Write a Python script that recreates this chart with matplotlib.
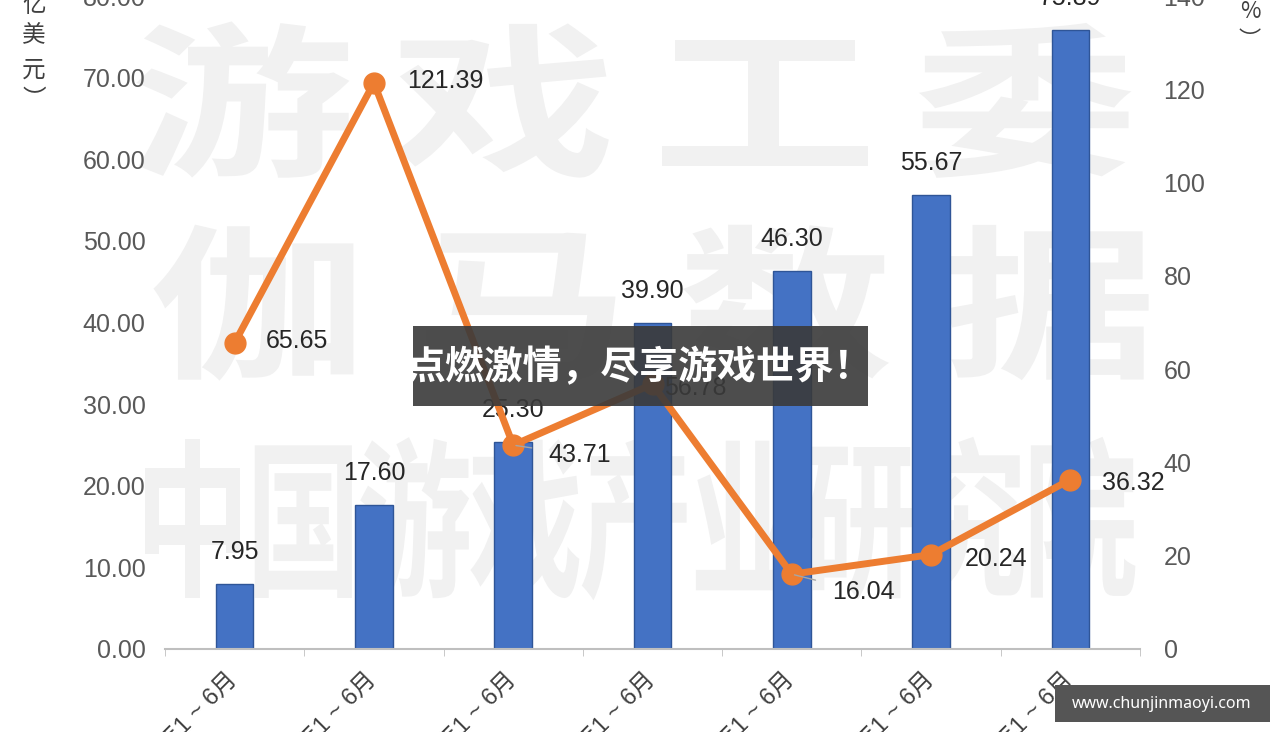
import matplotlib
matplotlib.use('Agg')
import matplotlib.pyplot as plt
import matplotlib.transforms as mtransforms
from matplotlib.textpath import TextPath
from matplotlib.patches import PathPatch, Rectangle
from matplotlib.font_manager import FontProperties
from matplotlib.ticker import FormatStrFormatter, FixedLocator

plt.rcParams['font.family'] = ['Liberation Sans', 'Noto Sans CJK SC', 'DejaVu Sans']

# data
periods = ['2012年1 ~ 6月', '2013年1 ~ 6月', '2014年1 ~ 6月', '2015年1 ~ 6月',
           '2016年1 ~ 6月', '2017年1 ~ 6月', '2018年1 ~ 6月']
revenue = [7.95, 17.60, 25.30, 39.90, 46.30, 55.67, 75.89]     # 亿美元
growth = [65.65, 121.39, 43.71, 56.78, 16.04, 20.24, 36.32]     # %

W, H = 1280, 732
fig = plt.figure(figsize=(W / 100, H / 100), dpi=100)
fig.patch.set_facecolor('white')

# big light watermark behind the chart
wm_fp = FontProperties(family='Noto Sans CJK SC', weight='bold')


def watermark(chars, x0, pitch, emw, emh, base):
    for i, ch in enumerate(chars):
        tp = TextPath((0, 0), ch, size=1, prop=wm_fp)
        tr = (mtransforms.Affine2D().scale(emw, emh)
              .translate(x0 + i * pitch, H - base)
              .scale(1 / W, 1 / H) + fig.transFigure)
        fig.add_artist(PathPatch(tp, transform=tr, fc='#f1f1f1', ec='none', zorder=-1))


watermark('游戏工委', 130, 261, 225, 165, 163)
watermark('伽马数据', 150, 264, 215, 165, 365)
watermark('中国游戏产业研究院', 135, 111, 115, 170, 583)

ax = fig.add_axes([165 / W, 1 - 649 / H, 975 / W, 653 / H])
ax.set_facecolor('none')
x = list(range(len(periods)))

bars = ax.bar(x, revenue, width=0.27, color='#4472c4', edgecolor='#2f5597', lw=1, zorder=2)
for i, v in enumerate(revenue):
    ax.annotate(f'{v:.2f}', (i, v), xytext=(0, 20), textcoords='offset pixels',
                ha='center', va='bottom', fontsize=18, color='#262626')

ax.set_xlim(-0.5, 6.5)
ax.set_ylim(0, 80)
ax.set_yticks(range(0, 81, 10))
ax.yaxis.set_major_formatter(FormatStrFormatter('%.2f'))
ax.set_xticks(x)
ax.set_xticklabels(periods, rotation=45, ha='right', va='center', rotation_mode='anchor',
                   fontsize=17, color='#404040')
ax.xaxis.set_minor_locator(FixedLocator([i - 0.5 for i in range(len(periods) + 1)]))
ax.tick_params(axis='x', which='major', length=0, pad=20)
ax.tick_params(axis='x', which='minor', length=5, color='#bfbfbf')
ax.tick_params(axis='y', length=0, pad=14, labelsize=18, labelcolor='#595959')
for s in ['left', 'right', 'top']:
    ax.spines[s].set_visible(False)
ax.spines['bottom'].set_color('#bfbfbf')
ax.spines['bottom'].set_linewidth(1.5)

ax2 = ax.twinx()
ax2.set_facecolor('none')
ax2.set_ylim(0, 140)
ax2.set_yticks(range(0, 141, 20))
ax2.tick_params(axis='y', length=0, pad=17, labelsize=18, labelcolor='#595959')
for s in ax2.spines.values():
    s.set_visible(False)

ax2.plot(x, growth, color='#ed7d31', lw=5, marker='o', ms=15, zorder=3)

label_off = [(31, 2), (33, 2), (35, -10), (12, -4), (40, -18), (34, -4), (32, -3)]
leader = [False, False, True, False, True, False, False]
for i, v in enumerate(growth):
    dx, dy = label_off[i]
    kw = {}
    if leader[i]:
        kw['arrowprops'] = dict(arrowstyle='-', color='#a6a6a6', lw=1, shrinkA=10, shrinkB=2)
    ax2.annotate(f'{v:.2f}', (i, v), xytext=(dx, dy), textcoords='offset pixels',
                 ha='left', va='center', fontsize=18, color='#262626', **kw)

# vertical axis titles, top cut off by the crop
cjk = ['Noto Sans CJK SC', 'DejaVu Sans']
for ch, yy in zip('︵亿美元︶', [-28, 5, 36, 70, 100]):
    fig.text(34 / W, 1 - yy / H, ch, ha='center', va='center', fontsize=17,
             color='#404040', family=cjk)
for ch, yy in zip('︵%︶', [-18, 12, 40]):
    fig.text(1250 / W, 1 - yy / H, ch, ha='center', va='center', fontsize=16,
             color='#404040', family=cjk)

# overlay banner
fig.add_artist(Rectangle((413 / W, 1 - 406 / H), 455 / W, 80 / H, transform=fig.transFigure,
                         fc='#3a3a3a', alpha=0.9, ec='none', zorder=10))
fig.text(640 / W, 1 - 368 / H, '点燃激情，尽享游戏世界！', ha='center', va='center',
         fontsize=28, fontweight='bold', color='white', family=cjk, zorder=11)

# site badge
fig.add_artist(Rectangle((1055 / W, 1 - 722 / H), 215 / W, 37 / H, transform=fig.transFigure,
                         fc='#555555', ec='none', zorder=10))
fig.text(1162 / W, 1 - 704 / H, 'www.chunjinmaoyi.com', ha='center', va='center',
         fontsize=11.5, fontweight='bold', color='white', family=['Noto Sans', 'DejaVu Sans'],
         zorder=11)

fig.savefig('out.png', dpi=100)
